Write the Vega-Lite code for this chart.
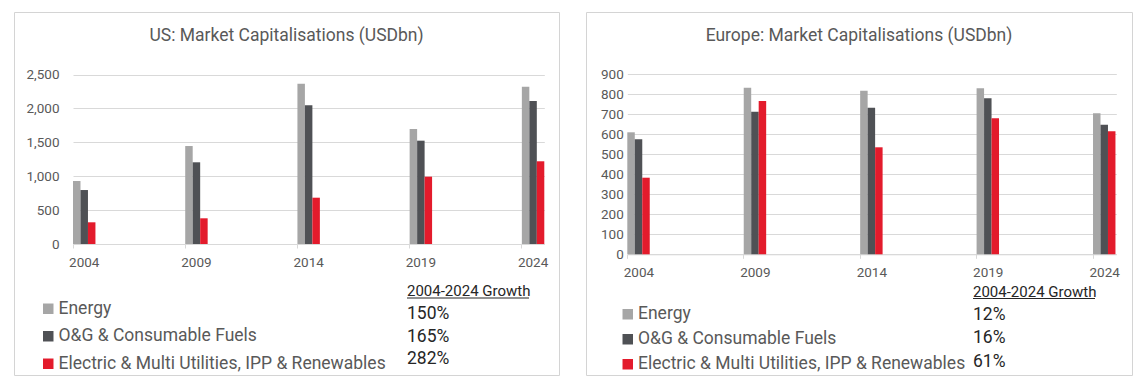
{
  "$schema": "https://vega.github.io/schema/vega-lite/v6.json",
  "background": "white",
  "padding": {"left": 13, "top": 11, "right": 0, "bottom": 0},
  "config": {
    "font": "Roboto",
    "view": {"stroke": "#d4d4d4", "strokeWidth": 1},
    "axis": {"labelFont": "Roboto", "labelColor": "#595959", "labelFontSize": 13.5}
  },
  "spacing": 25,
  "resolve": {"scale": {"color": "independent"}, "legend": {"color": "independent"}},
  "hconcat": [
    {
      "width": 545,
      "height": 363,
      "title": {"text": "US: Market Capitalisations (USDbn)", "font": "Roboto", "fontSize": 17.5, "fontWeight": "normal", "color": "#595959", "anchor": "middle", "frame": "group", "offset": -41, "baseline": "middle"},
      "layer": [
        {
          "data": {"values": [
            {"year": 2004, "series": "Energy", "value": 929},
            {"year": 2004, "series": "O&G & Consumable Fuels", "value": 796},
            {"year": 2004, "series": "Electric & Multi Utilities, IPP & Renewables", "value": 320},
            {"year": 2009, "series": "Energy", "value": 1445},
            {"year": 2009, "series": "O&G & Consumable Fuels", "value": 1205},
            {"year": 2009, "series": "Electric & Multi Utilities, IPP & Renewables", "value": 379},
            {"year": 2014, "series": "Energy", "value": 2364},
            {"year": 2014, "series": "O&G & Consumable Fuels", "value": 2046},
            {"year": 2014, "series": "Electric & Multi Utilities, IPP & Renewables", "value": 683},
            {"year": 2019, "series": "Energy", "value": 1696},
            {"year": 2019, "series": "O&G & Consumable Fuels", "value": 1524},
            {"year": 2019, "series": "Electric & Multi Utilities, IPP & Renewables", "value": 993},
            {"year": 2024, "series": "Energy", "value": 2320},
            {"year": 2024, "series": "O&G & Consumable Fuels", "value": 2109},
            {"year": 2024, "series": "Electric & Multi Utilities, IPP & Renewables", "value": 1220}
          ]},
          "mark": {"type": "bar"},
          "encoding": {
            "x": {
              "field": "year", "type": "ordinal",
              "scale": {"domain": [2004,2005,2006,2007,2008,2009,2010,2011,2012,2013,2014,2015,2016,2017,2018,2019,2020,2021,2022,2023,2024], "range": [59, 530.3], "paddingInner": 0, "paddingOuter": 0},
              "axis": {"values": [2004, 2009, 2014, 2019, 2024], "title": null, "labelAngle": 0, "bandPosition": 0, "offset": -131, "domainColor": "#d9d9d9", "tickColor": "#d9d9d9", "tickSize": 4, "labelPadding": 7, "grid": false}
            },
            "xOffset": {
              "field": "series", "type": "nominal",
              "sort": ["Energy", "O&G & Consumable Fuels", "Electric & Multi Utilities, IPP & Renewables"],
              "scale": {"paddingInner": 0, "paddingOuter": 0}
            },
            "y": {
              "field": "value", "type": "quantitative",
              "scale": {"domain": [0, 2500], "range": [232, 62.5], "nice": false},
              "axis": {"values": [0, 500, 1000, 1500, 2000, 2500], "format": ",.0f", "title": null, "offset": -59, "domain": false, "ticks": false, "grid": true, "gridColor": "#d9d9d9", "labelPadding": 14}
            },
            "color": {
              "field": "series", "type": "nominal",
              "scale": {"domain": ["Energy", "O&G & Consumable Fuels", "Electric & Multi Utilities, IPP & Renewables"], "range": ["#a6a6a6", "#4f5155", "#e31b2c"]},
              "legend": {"title": null, "orient": "none", "legendX": 25.5, "legendY": 288, "symbolType": "square", "symbolSize": 110, "symbolStrokeWidth": 0, "labelFont": "Roboto", "labelFontSize": 17.5, "labelColor": "#595959", "labelLimit": 600, "labelOffset": 1.5, "rowPadding": 8.5, "padding": 0, "offset": 0}
            }
          }
        },
        {
          "data": {"values": [{"measure": "2004-2024 Growth"}]},
          "mark": {"type": "text", "align": "left", "baseline": "middle", "fontSize": 15, "color": "#262626", "font": "Roboto"},
          "encoding": {
            "x": {"field": "measure", "type": "nominal", "scale": {"type": "point", "range": [393, 393], "padding": 0}, "axis": null},
            "y": {"field": "measure", "type": "nominal", "scale": {"type": "point", "domain": ["2004-2024 Growth", "Energy", "O&G & Consumable Fuels", "Electric & Multi Utilities, IPP & Renewables"], "range": [279, 347.3], "padding": 0}, "axis": null},
            "text": {"field": "measure"}
          }
        },
        {
          "data": {"values": [{"measure": "2004-2024 Growth"}]},
          "mark": {"type": "tick", "orient": "horizontal", "size": 122, "thickness": 1, "xOffset": 61, "yOffset": 7, "color": "#262626", "opacity": 1},
          "encoding": {
            "x": {"field": "measure", "type": "nominal", "scale": {"type": "point", "range": [393, 393], "padding": 0}, "axis": null},
            "y": {"field": "measure", "type": "nominal", "scale": {"type": "point", "domain": ["2004-2024 Growth", "Energy", "O&G & Consumable Fuels", "Electric & Multi Utilities, IPP & Renewables"], "range": [279, 347.3], "padding": 0}, "axis": null}
          }
        },
        {
          "data": {"values": [
            {"measure": "2004-2024 Growth", "series": "Energy", "growth": "150%"},
            {"measure": "2004-2024 Growth", "series": "O&G & Consumable Fuels", "growth": "165%"},
            {"measure": "2004-2024 Growth", "series": "Electric & Multi Utilities, IPP & Renewables", "growth": "282%"}
          ]},
          "mark": {"type": "text", "align": "left", "baseline": "middle", "fontSize": 17.5, "color": "#262626", "font": "Roboto"},
          "encoding": {
            "x": {"field": "measure", "type": "nominal", "scale": {"type": "point", "range": [393, 393], "padding": 0}, "axis": null},
            "y": {"field": "series", "type": "nominal", "scale": {"type": "point", "domain": ["2004-2024 Growth", "Energy", "O&G & Consumable Fuels", "Electric & Multi Utilities, IPP & Renewables"], "range": [279, 347.3], "padding": 0}, "axis": null},
            "text": {"field": "growth"}
          }
        }
      ],
      "resolve": {"scale": {"x": "independent", "y": "independent"}, "axis": {"x": "independent", "y": "independent"}}
    },
    {
      "width": 546,
      "height": 363,
      "title": {"text": "Europe: Market Capitalisations (USDbn)", "font": "Roboto", "fontSize": 17.5, "fontWeight": "normal", "color": "#595959", "anchor": "middle", "frame": "group", "offset": -41, "baseline": "middle"},
      "layer": [
        {
          "data": {"values": [
            {"year": 2004, "series": "Energy", "value": 610},
            {"year": 2004, "series": "O&G & Consumable Fuels", "value": 575},
            {"year": 2004, "series": "Electric & Multi Utilities, IPP & Renewables", "value": 383},
            {"year": 2009, "series": "Energy", "value": 833},
            {"year": 2009, "series": "O&G & Consumable Fuels", "value": 713},
            {"year": 2009, "series": "Electric & Multi Utilities, IPP & Renewables", "value": 767},
            {"year": 2014, "series": "Energy", "value": 818},
            {"year": 2014, "series": "O&G & Consumable Fuels", "value": 733},
            {"year": 2014, "series": "Electric & Multi Utilities, IPP & Renewables", "value": 535},
            {"year": 2019, "series": "Energy", "value": 830},
            {"year": 2019, "series": "O&G & Consumable Fuels", "value": 780},
            {"year": 2019, "series": "Electric & Multi Utilities, IPP & Renewables", "value": 680},
            {"year": 2024, "series": "Energy", "value": 705},
            {"year": 2024, "series": "O&G & Consumable Fuels", "value": 648},
            {"year": 2024, "series": "Electric & Multi Utilities, IPP & Renewables", "value": 615}
          ]},
          "mark": {"type": "bar"},
          "encoding": {
            "x": {
              "field": "year", "type": "ordinal",
              "scale": {"domain": [2004,2005,2006,2007,2008,2009,2010,2011,2012,2013,2014,2015,2016,2017,2018,2019,2020,2021,2022,2023,2024], "range": [41.3, 530.3], "paddingInner": 0, "paddingOuter": 0},
              "axis": {"values": [2004, 2009, 2014, 2019, 2024], "title": null, "labelAngle": 0, "bandPosition": 0, "offset": -120.7, "domainColor": "#d9d9d9", "tickColor": "#d9d9d9", "tickSize": 4, "labelPadding": 7, "grid": false}
            },
            "xOffset": {
              "field": "series", "type": "nominal",
              "sort": ["Energy", "O&G & Consumable Fuels", "Electric & Multi Utilities, IPP & Renewables"],
              "scale": {"paddingInner": 0, "paddingOuter": 0}
            },
            "y": {
              "field": "value", "type": "quantitative",
              "scale": {"domain": [0, 900], "range": [242.3, 62.3], "nice": false},
              "axis": {"values": [0, 100, 200, 300, 400, 500, 600, 700, 800, 900], "format": ",.0f", "title": null, "offset": -41.3, "domain": false, "ticks": false, "grid": true, "gridColor": "#d9d9d9", "labelPadding": 4}
            },
            "color": {
              "field": "series", "type": "nominal",
              "scale": {"domain": ["Energy", "O&G & Consumable Fuels", "Electric & Multi Utilities, IPP & Renewables"], "range": ["#a6a6a6", "#4f5155", "#e31b2c"]},
              "legend": {"title": null, "orient": "none", "legendX": 33, "legendY": 293.5, "symbolType": "square", "symbolSize": 110, "symbolStrokeWidth": 0, "labelFont": "Roboto", "labelFontSize": 17.5, "labelColor": "#595959", "labelLimit": 600, "labelOffset": 1.5, "rowPadding": 6, "padding": 0, "offset": 0}
            }
          }
        },
        {
          "data": {"values": [{"measure": "2004-2024 Growth"}]},
          "mark": {"type": "text", "align": "left", "baseline": "middle", "fontSize": 15, "color": "#262626", "font": "Roboto"},
          "encoding": {
            "x": {"field": "measure", "type": "nominal", "scale": {"type": "point", "range": [387, 387], "padding": 0}, "axis": null},
            "y": {"field": "measure", "type": "nominal", "scale": {"type": "point", "domain": ["2004-2024 Growth", "Energy", "O&G & Consumable Fuels", "Electric & Multi Utilities, IPP & Renewables"], "range": [279.5, 349.5], "padding": 0}, "axis": null},
            "text": {"field": "measure"}
          }
        },
        {
          "data": {"values": [{"measure": "2004-2024 Growth"}]},
          "mark": {"type": "tick", "orient": "horizontal", "size": 122, "thickness": 1, "xOffset": 61, "yOffset": 7, "color": "#262626", "opacity": 1},
          "encoding": {
            "x": {"field": "measure", "type": "nominal", "scale": {"type": "point", "range": [387, 387], "padding": 0}, "axis": null},
            "y": {"field": "measure", "type": "nominal", "scale": {"type": "point", "domain": ["2004-2024 Growth", "Energy", "O&G & Consumable Fuels", "Electric & Multi Utilities, IPP & Renewables"], "range": [279.5, 349.5], "padding": 0}, "axis": null}
          }
        },
        {
          "data": {"values": [
            {"measure": "2004-2024 Growth", "series": "Energy", "growth": "12%"},
            {"measure": "2004-2024 Growth", "series": "O&G & Consumable Fuels", "growth": "16%"},
            {"measure": "2004-2024 Growth", "series": "Electric & Multi Utilities, IPP & Renewables", "growth": "61%"}
          ]},
          "mark": {"type": "text", "align": "left", "baseline": "middle", "fontSize": 17.5, "color": "#262626", "font": "Roboto"},
          "encoding": {
            "x": {"field": "measure", "type": "nominal", "scale": {"type": "point", "range": [387, 387], "padding": 0}, "axis": null},
            "y": {"field": "series", "type": "nominal", "scale": {"type": "point", "domain": ["2004-2024 Growth", "Energy", "O&G & Consumable Fuels", "Electric & Multi Utilities, IPP & Renewables"], "range": [279.5, 349.5], "padding": 0}, "axis": null},
            "text": {"field": "growth"}
          }
        }
      ],
      "resolve": {"scale": {"x": "independent", "y": "independent"}, "axis": {"x": "independent", "y": "independent"}}
    }
  ]
}
